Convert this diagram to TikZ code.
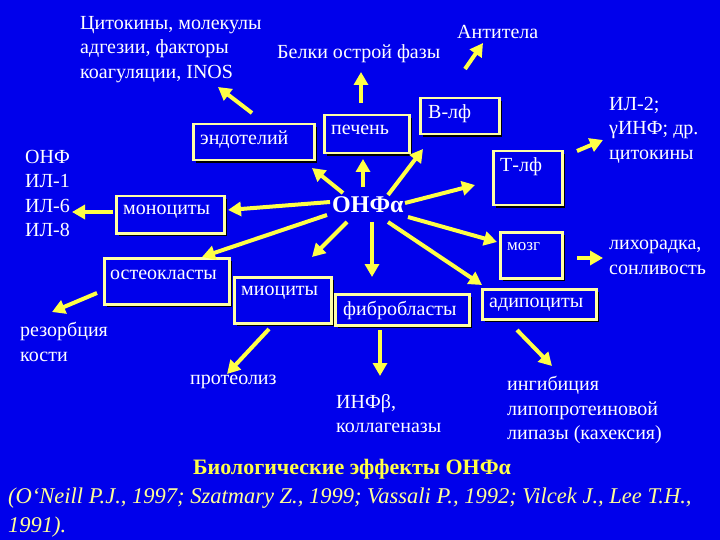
\documentclass[tikz,border=0pt]{standalone}
\usepackage{fontspec}
\setmainfont{Liberation Serif}
\usetikzlibrary{arrows.meta,shadows}
\definecolor{bg}{RGB}{0,0,235}
\definecolor{ylw}{RGB}{255,255,70}
\definecolor{bordr}{RGB}{255,255,165}
\definecolor{reftxt}{RGB}{255,255,150}
\tikzset{
 arr/.style={draw=ylw, line width=4pt, -{Triangle[length=13pt,width=14pt]}},
 box/.style={draw=bordr, line width=2.5pt, fill=bg, inner sep=0pt,
   drop shadow={shadow xshift=2.5pt, shadow yshift=-2.5pt, fill=black, opacity=1}},
 txt/.style={text=white, font=\fontsize{20}{24.5}\selectfont, inner sep=0pt, align=left},
 boxtxt/.style={txt, anchor=west},
}
\begin{document}
\begin{tikzpicture}[x=1pt,y=-1pt]
\fill[bg] (0,0) rectangle (720,540);
\useasboundingbox (0,0) rectangle (720,540);

% boxes
\node[box, anchor=north west, minimum width=121pt, minimum height=36pt] (endo) at (192,123) {};
\node[box, anchor=north west, minimum width=85pt, minimum height=38pt] (pech) at (323,114) {};
\node[box, anchor=north west, minimum width=79pt, minimum height=36pt] (blf) at (419,97) {};
\node[box, anchor=north west, minimum width=69pt, minimum height=54pt] (tlf) at (492,150) {};
\node[box, anchor=north west, minimum width=62pt, minimum height=46pt] (mozg) at (499,231) {};
\node[box, anchor=north west, minimum width=108pt, minimum height=37pt] (mono) at (115,195) {};
\node[box, anchor=north west, minimum width=125pt, minimum height=46pt] (osteo) at (103,257) {};
\node[box, anchor=north west, minimum width=97pt, minimum height=46pt] (mio) at (233,276) {};
\node[box, anchor=north west, minimum width=134pt, minimum height=31pt] (fibro) at (334,293) {};
\node[box, anchor=north west, minimum width=114pt, minimum height=30pt] (adipo) at (481,288) {};

% box texts
\node[boxtxt] (endoT) at (200,140) {эндотелий};
\node[boxtxt] (pechT) at (331,130) {печень};
\node[boxtxt] (blfT) at (428,114) {В-лф};
\node[boxtxt] (tlfT) at (500,167) {Т-лф};
\node[boxtxt, font=\fontsize{17}{20}\selectfont] (mozgT) at (507,247) {мозг};
\node[boxtxt] (monoT) at (123,212) {моноциты};
\node[boxtxt] (osteoT) at (110,275) {остеокласты};
\node[boxtxt] (mioT) at (241,293) {миоциты};
\node[boxtxt] (fibroT) at (343,310) {фибробласты};
\node[boxtxt] (adipoT) at (489,305) {адипоциты};

% centre
\node[text=white, font=\fontsize{24}{28}\bfseries, inner sep=0pt, anchor=west] (onf) at (332,205) {ОНФα};

% free texts
\node[txt, anchor=north west] (cyto) at (80,16) {Цитокины, молекулы\\адгезии, факторы\\коагуляции, INOS};
\node[txt, anchor=north west] (belki) at (277,44) {Белки острой фазы};
\node[txt, anchor=north west] (anti) at (457,25) {Антитела};
\node[txt, anchor=north west] (il2) at (609,97) {ИЛ-2;\\γИНФ; др.\\цитокины};
\node[txt, anchor=north west] (lihor) at (609,240) {лихорадка,\\сонливость};
\node[txt, anchor=north west] (list) at (25,150) {ОНФ\\ИЛ-1\\ИЛ-6\\ИЛ-8};
\node[txt, anchor=north west] (rezorb) at (20,322) {резорбция\\кости};
\node[txt, anchor=north west] (proteo) at (190,375) {протеолиз};
\node[txt, anchor=north west] (infb) at (336,394) {ИНФβ,\\коллагеназы};
\node[txt, anchor=north west] (ingib) at (507,376) {ингибиция\\липопротеиновой\\липазы (кахексия)};

\node[text=ylw, font=\fontsize{22}{26}\bfseries, inner sep=0pt] (title) at (352,469) {Биологические эффекты ОНФα};
\node[text=reftxt, font=\fontsize{22.5}{28.5}\itshape, inner sep=0pt, align=left, anchor=north west] (refs) at (8,488)
 {(O`Neill P.J., 1997; Szatmary Z., 1999; Vassali P., 1992; Vilcek J., Lee T.H.,\\1991).};

% arrow end points
\coordinate (s1) at (343,193); \coordinate (e1) at (312,168);
\coordinate (s2) at (330,202); \coordinate (e2) at (228,210);
\coordinate (s3) at (327,215); \coordinate (e3) at (202,257);
\coordinate (s4) at (347,222); \coordinate (e4) at (312,257);
\coordinate (s5) at (372,222); \coordinate (e5) at (372,277);
\coordinate (s6) at (363,187); \coordinate (e6) at (363,159);
\coordinate (s7) at (388,195); \coordinate (e7) at (423,149);
\coordinate (s8) at (405,203); \coordinate (e8) at (475,185);
\coordinate (s9) at (408,217); \coordinate (e9) at (497,242);
\coordinate (s10) at (388,222); \coordinate (e10) at (482,285);
\coordinate (s11) at (252,113); \coordinate (e11) at (218,87);
\coordinate (s12) at (361,103); \coordinate (e12) at (361,72);
\coordinate (s13) at (465,69); \coordinate (e13) at (483,43);
\coordinate (s14) at (577,151); \coordinate (e14) at (603,140);
\coordinate (s15) at (577,258); \coordinate (e15) at (603,258);
\coordinate (s16) at (113,212); \coordinate (e16) at (72,212);
\coordinate (s17) at (97,293); \coordinate (e17) at (52,312);
\coordinate (s18) at (269,329); \coordinate (e18) at (227,374);
\coordinate (s19) at (380,330); \coordinate (e19) at (380,376);
\coordinate (s20) at (517,330); \coordinate (e20) at (552,366);

\foreach \i in {1,...,20} {\draw[arr] (s\i) -- (e\i);}
\end{tikzpicture}
\end{document}
